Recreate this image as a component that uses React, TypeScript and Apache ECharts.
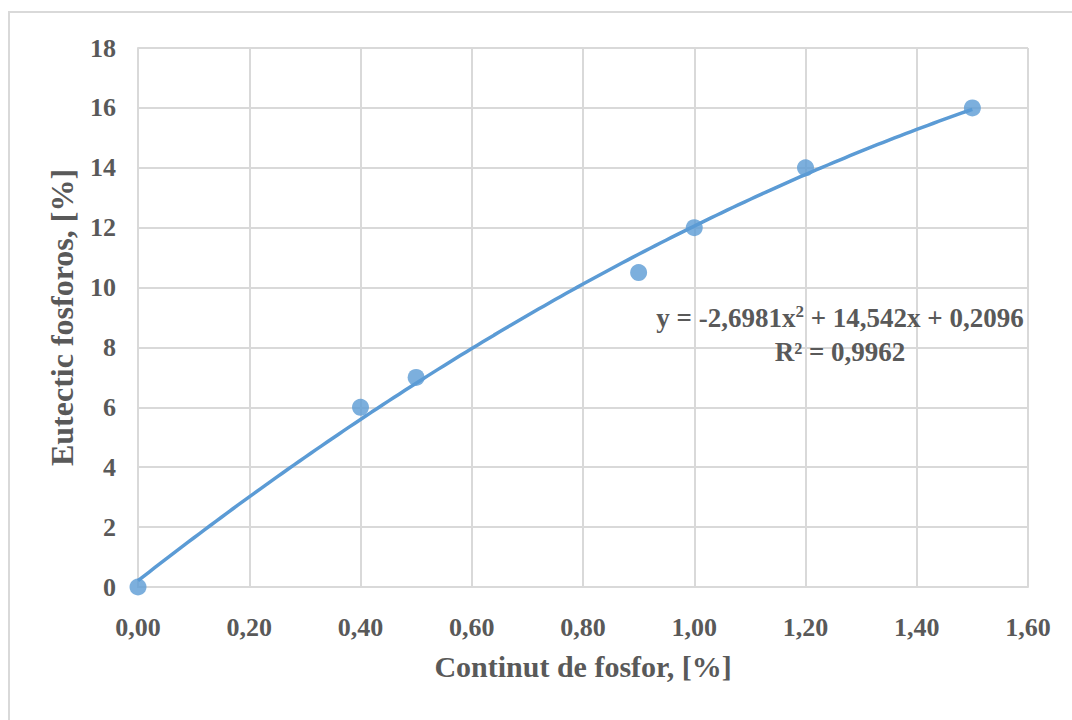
import React, { useEffect, useRef } from "react";
import * as echarts from "echarts";

const xValues = [0, 0.4, 0.5, 0.9, 1.0, 1.2, 1.5];
const yValues = [0, 6, 7, 10.5, 12, 14, 16];
// Trendline coefficients as shown on the chart (a*x^2 + b*x + c)
const trendCoefficients = [-2.6981, 14.542, 0.2096];
const rSquaredLabel = "R² = 0,9962";
const xAxisTitle = "Continut de fosfor, [%]";
const yAxisTitle = "Eutectic fosforos, [%]";

const FONT = "'Liberation Serif', 'Times New Roman', serif";
const TEXT_COLOR = "#595959";
const BLUE = "#5b9bd5";

function fmt(v: number, d: number) {
  return v.toFixed(d).replace(".", ",");
}

export default function App() {
  const ref = useRef<HTMLDivElement>(null);
  useEffect(() => {
    if (!ref.current) return;
    const chart = echarts.init(ref.current, undefined, { renderer: "svg" });
    const [a, b, c] = trendCoefficients;
    const xMin = xValues[0];
    const xMax = xValues[xValues.length - 1];
    const trend: number[][] = [];
    const steps = 150;
    for (let i = 0; i <= steps; i++) {
      const x = xMin + ((xMax - xMin) * i) / steps;
      trend.push([x, a * x * x + b * x + c]);
    }
    const eqLine =
      "{t|y = " +
      fmt(a, 4) +
      "x}{sup|2}{t| + " +
      fmt(b, 3) +
      "x + " +
      fmt(c, 4) +
      "}";
    chart.setOption({
      animation: false,
      backgroundColor: "#ffffff",
      grid: { left: 138, right: 44, top: 48, bottom: 133 },
      xAxis: {
        type: "value",
        min: 0,
        max: 1.6,
        interval: 0.2,
        name: xAxisTitle,
        nameLocation: "middle",
        nameGap: 64,
        nameTextStyle: { fontFamily: FONT, fontWeight: "bold", fontSize: 30, color: TEXT_COLOR },
        axisLine: { show: true, lineStyle: { color: "#d9d9d9", width: 2 } },
        axisTick: { show: false },
        axisLabel: {
          formatter: (v: number) => fmt(v, 2),
          fontFamily: FONT,
          fontWeight: "bold",
          fontSize: 26,
          color: TEXT_COLOR,
          margin: 27,
        },
        splitLine: { show: true, lineStyle: { color: "#d9d9d9", width: 2 } },
      },
      yAxis: {
        type: "value",
        min: 0,
        max: 18,
        interval: 2,
        name: yAxisTitle,
        nameLocation: "middle",
        nameGap: 60,
        nameRotate: 90,
        nameTextStyle: { fontFamily: FONT, fontWeight: "bold", fontSize: 32, color: TEXT_COLOR },
        axisLine: { show: true, lineStyle: { color: "#d9d9d9", width: 2 } },
        axisTick: { show: false },
        axisLabel: {
          fontFamily: FONT,
          fontWeight: "bold",
          fontSize: 26,
          color: TEXT_COLOR,
          margin: 22,
        },
        splitLine: { show: true, lineStyle: { color: "#d9d9d9", width: 2 } },
      },
      series: [
        {
          type: "line",
          data: trend,
          showSymbol: false,
          smooth: false,
          lineStyle: { color: BLUE, width: 3.5 },
          z: 2,
        },
        {
          type: "scatter",
          data: xValues.map((x, i) => [x, yValues[i]]),
          symbol: "circle",
          symbolSize: 17,
          itemStyle: { color: BLUE },
          z: 3,
        },
      ],
      graphic: [
        {
          type: "rect",
          shape: { x: 9, y: 12, width: 1200, height: 800 },
          style: { fill: "none", stroke: "#d9d9d9", lineWidth: 2 },
          silent: true,
        },
        {
          type: "text",
          x: 840,
          y: 318,
          z: 10,
          style: {
            text: eqLine,
            align: "center",
            verticalAlign: "middle",
            rich: {
              t: {
                fontFamily: FONT,
                fontWeight: "bold",
                fontSize: 27,
                fill: TEXT_COLOR,
                lineHeight: 30,
              },
              sup: {
                fontFamily: FONT,
                fontWeight: "bold",
                fontSize: 17,
                fill: TEXT_COLOR,
                verticalAlign: "top",
                lineHeight: 17,
              },
            },
          },
        },
        {
          type: "text",
          x: 840,
          y: 352,
          z: 10,
          style: {
            text: rSquaredLabel,
            align: "center",
            verticalAlign: "middle",
            fontFamily: FONT,
            fontWeight: "bold",
            fontSize: 27,
            fill: TEXT_COLOR,
          },
        },
      ],
    });
    return () => chart.dispose();
  }, []);
  return (
    <div
      ref={ref}
      style={{ position: "fixed", left: 0, top: 0, width: 1072, height: 720, background: "#fff" }}
    />
  );
}
